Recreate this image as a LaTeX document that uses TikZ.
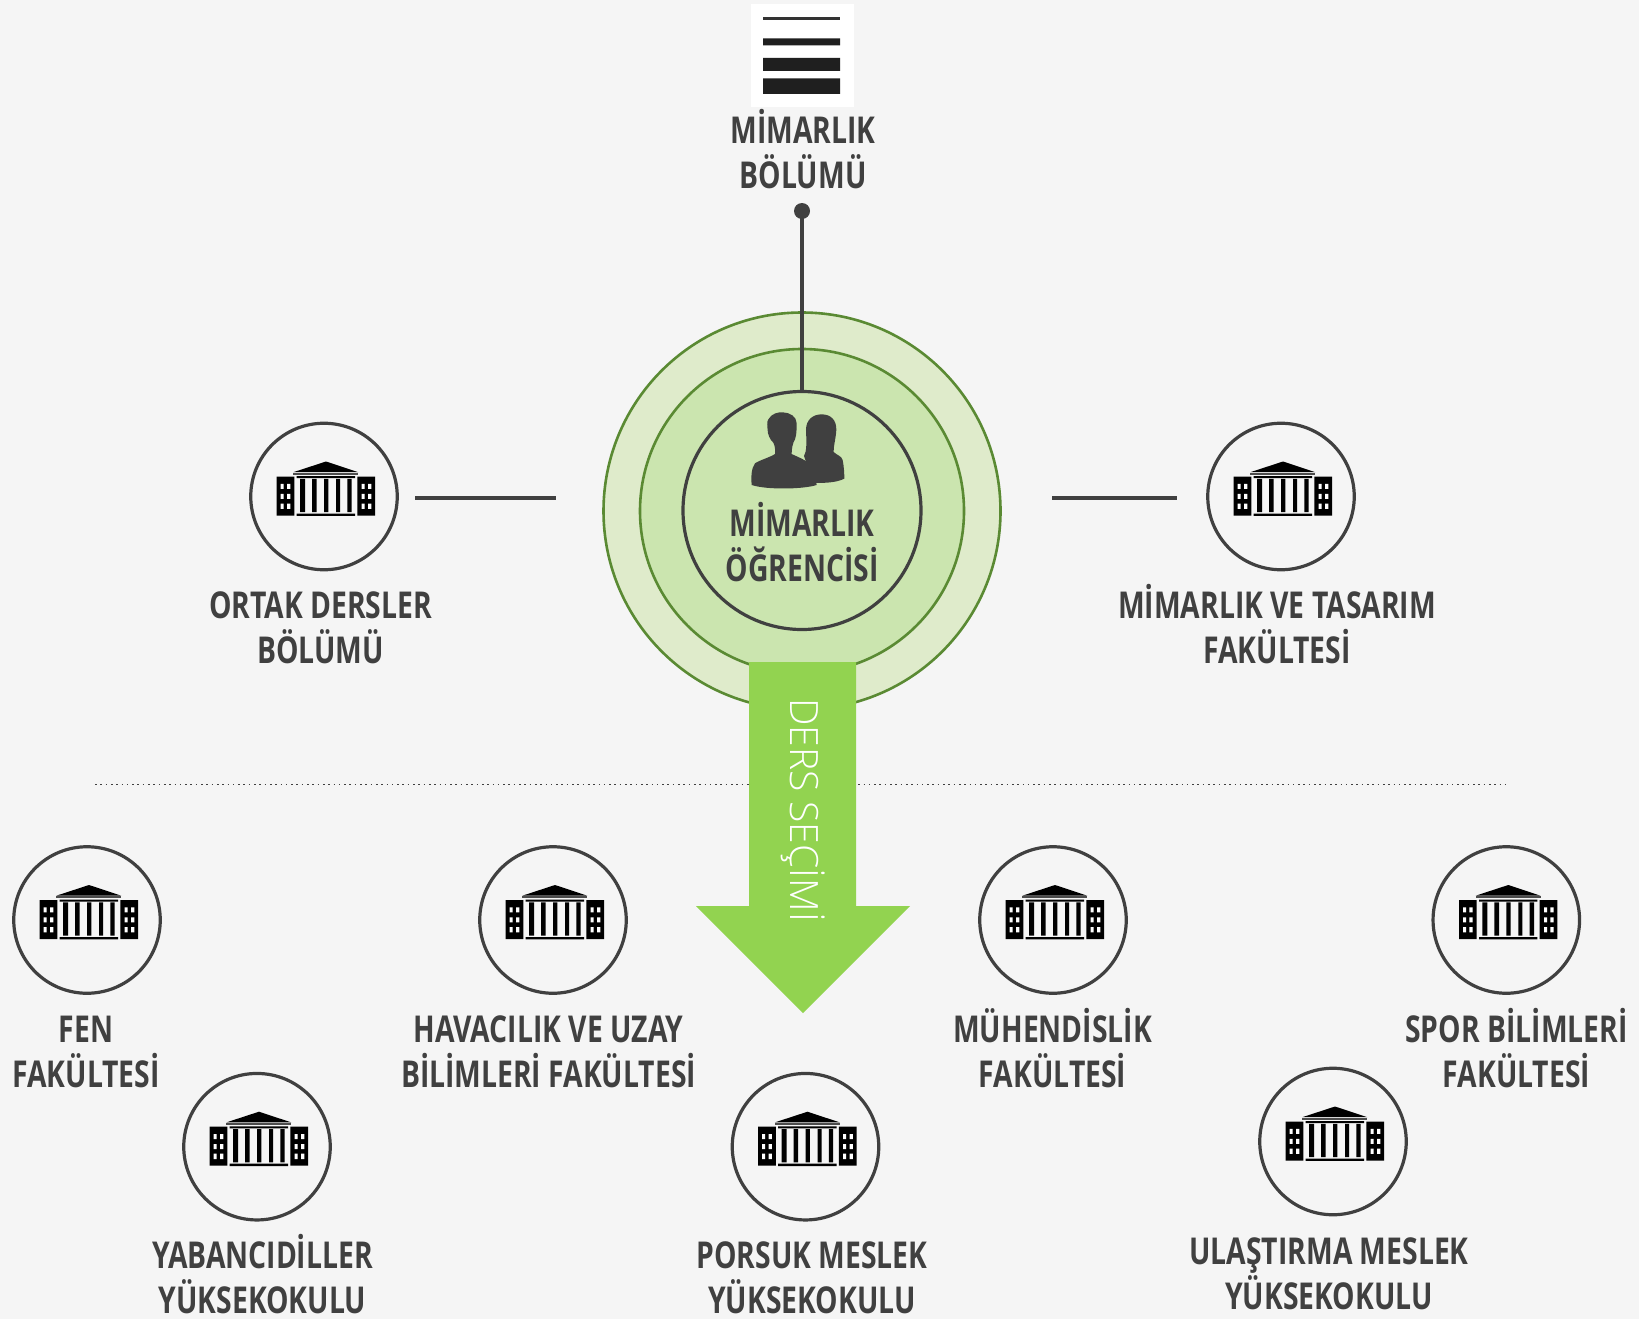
\documentclass[tikz,border=0pt]{standalone}
\usepackage{fontspec}
\setmainfont{Open Sans}
\newfontfamily\labf[FakeStretch=0.765]{Open Sans}
\newfontfamily\thinf{Open Sans Light}
\definecolor{bgc}{HTML}{F5F5F5}
\definecolor{ink}{HTML}{404040}
\definecolor{ringa}{HTML}{DFEBCB}
\definecolor{ringb}{HTML}{CBE5AF}
\definecolor{ringl}{HTML}{5A8A33}
\definecolor{arrowc}{HTML}{92D350}
\newcommand\sr{\rule[-3pt]{0pt}{39pt}}
\newcommand\lab[2]{\sr #1\\\sr #2}
\tikzset{
  x=1pt,y=-1pt,
  txtlabel/.style={font=\labf\bfseries\fontsize{37}{45}\selectfont,text=ink,align=center,inner sep=0pt,outer sep=0pt},
  ringbig/.style={circle,draw=ringl,line width=2.6pt,fill=ringa,minimum size=397pt,inner sep=0pt,outer sep=0pt},
  ringmid/.style={circle,draw=ringl,line width=2.6pt,fill=ringb,minimum size=324pt,inner sep=0pt,outer sep=0pt},
  ringin/.style={circle,draw=ink,line width=3.2pt,fill=ringb,minimum size=238pt,inner sep=0pt,outer sep=0pt},
  unit/.style={circle,draw=ink,line width=3.2pt,minimum size=146.5pt,inner sep=0pt,outer sep=0pt},
  conn/.style={draw=ink,line width=3.2pt},
  building/.pic={
    \fill[black] (-47.3,-20) rectangle (-29.7,19) (33.3,-20) rectangle (51,19);
    \fill[white] (-43.3,-12.7) rectangle (-40.3,-7.7) (-37,-12.7) rectangle (-33.7,-7.7)
                 (-43.3,-2.7) rectangle (-40.3,2.3) (-37,-2.7) rectangle (-33.7,2.3)
                 (-43.3,7) rectangle (-40.3,12.3) (-37,7) rectangle (-33.7,12.3)
                 (37.7,-12.7) rectangle (40.7,-7.7) (44,-12.7) rectangle (47.3,-7.7)
                 (37.7,-2.7) rectangle (40.7,2.3) (44,-2.7) rectangle (47.3,2.3)
                 (37.7,7) rectangle (40.7,12.3) (44,7) rectangle (47.3,12.3);
    \fill[black] (2,-35) -- (34.3,-24.3) -- (-30.7,-24.3) -- cycle;
    \fill[black!70] (-30.7,-24) rectangle (34.3,-22);
    \fill[black] (-27.3,-20.3) rectangle (31,-18.3) (-27.3,17) rectangle (31,19.3);
    \fill[black] (-24,-17.7) rectangle (-19,15.7) (-12,-17.7) rectangle (-7.3,15.7)
                 (0,-17.7) rectangle (4.3,15.7) (12,-17.7) rectangle (16,15.7)
                 (23.3,-17.7) rectangle (27.7,15.7);
  }
}
\begin{document}
\begin{tikzpicture}
\useasboundingbox (0,0) rectangle (1639,1319);
\fill[bgc] (0,0) rectangle (1639,1319);
% dotted rule
\coordinate (dl) at (95,784.5);
\coordinate (dr) at (1505,784.5);
\draw[ink,line width=1.8pt,dash pattern=on 1.6pt off 3.7pt] (dl) -- (dr);
% rings
\node[ringbig] (outer) at (802,511) {};
\node[ringmid] (mid) at (802,511) {};
\node[ringin] (inner) at (802,510.5) {};
% menu icon
\fill[white] (751,4) rectangle (854,107);
\fill[black!80] (763,17.5) rectangle (840,20.5);
\fill[black!88] (763,38.5) rectangle (840,45.5) (763,58) rectangle (840,71) (763,78.5) rectangle (840,94);
% top connector
\coordinate (topdot) at (802,211);
\draw[conn] (topdot) -- (inner.north);
\fill[ink] (topdot) circle (8pt);
% people icon
\begin{scope}[shift={(660,380)},x=0.3333pt,y=-0.3333pt]
\fill[ink] (432,228) .. controls (440,215) and (440,190) .. (438,150)
  .. controls (438,120) and (458,103) .. (485,103)
  .. controls (512,103) and (530,120) .. (529,150)
  .. controls (527,180) and (520,200) .. (521,216)
  .. controls (530,225) and (545,228) .. (548,240)
  .. controls (552,260) and (553,280) .. (553,296)
  .. controls (530,308) and (490,310) .. (460,308) -- cycle;
\fill[ink] (275,315) .. controls (273,290) and (274,265) .. (285,250)
  .. controls (300,240) and (330,232) .. (345,222)
  .. controls (347,210) and (344,195) .. (340,188)
  .. controls (330,180) and (322,160) .. (323,150)
  .. controls (322,140) and (320,125) .. (325,118)
  .. controls (335,100) and (355,96) .. (368,97)
  .. controls (390,97) and (410,110) .. (410,130)
  .. controls (410,145) and (410,165) .. (405,178)
  .. controls (398,190) and (395,205) .. (395,222)
  .. controls (415,232) and (440,240) .. (450,255)
  .. controls (462,275) and (468,295) .. (470,315)
  .. controls (430,328) and (320,330) .. (275,315) -- cycle;
\end{scope}
% center text
\node[txtlabel] (tstud) at (802,542) {\lab{MİMARLIK}{ÖĞRENCİSİ}};
\node[txtlabel] (ttop) at (803,150) {\lab{MİMARLIK}{BÖLÜMÜ}};
% side units
\node[unit] (uortak) at (324,496.5) {}; \pic at (uortak.center) {building};
\node[unit] (umim) at (1281,496.5) {}; \pic at (umim.center) {building};
\coordinate (la) at (415,498); \coordinate (lb) at (556,498);
\coordinate (ra) at (1052,498); \coordinate (rb) at (1177,498);
\draw[conn] (la) -- (lb);
\draw[conn] (ra) -- (rb);
\node[txtlabel] (tortak) at (320.5,624.5) {\lab{ORTAK DERSLER}{BÖLÜMÜ}};
\node[txtlabel] (tmim) at (1277,624.5) {\lab{MİMARLIK VE TASARIM}{FAKÜLTESİ}};
% arrow
\fill[arrowc] (749,662) -- (856,662) -- (856,906) -- (910,906) -- (803,1013) -- (696,906) -- (749,906) -- cycle;
\node[rotate=-90,font=\thinf\fontsize{39}{39}\selectfont,text=white,inner sep=0pt] (tders) at (803,810) {DERS SEÇİMİ};
% lower units
\node[unit] (ufen) at (87,920) {}; \pic at (ufen.center) {building};
\node[unit] (uhav) at (553,920) {}; \pic at (uhav.center) {building};
\node[unit] (umuh) at (1053,920) {}; \pic at (umuh.center) {building};
\node[unit] (uspor) at (1506.3,920) {}; \pic at (uspor.center) {building};
\node[unit] (uyab) at (257,1146.7) {}; \pic at (uyab.center) {building};
\node[unit] (upor) at (805.5,1146.7) {}; \pic at (upor.center) {building};
\node[unit] (ulas) at (1333,1141.5) {}; \pic at (ulas.center) {building};
\node[txtlabel] (tfen) at (86,1048) {\lab{FEN}{FAKÜLTESİ}};
\node[txtlabel] (thav) at (548.5,1048) {\lab{HAVACILIK VE UZAY}{BİLİMLERİ FAKÜLTESİ}};
\node[txtlabel] (tmuh) at (1052.6,1048) {\lab{MÜHENDİSLİK}{FAKÜLTESİ}};
\node[txtlabel] (tspor) at (1516.5,1048) {\lab{SPOR BİLİMLERİ}{FAKÜLTESİ}};
\node[txtlabel] (tyab) at (262.5,1274.5) {\lab{YABANCIDİLLER}{YÜKSEKOKULU}};
\node[txtlabel] (tpor) at (812,1274.5) {\lab{PORSUK MESLEK}{YÜKSEKOKULU}};
\node[txtlabel] (tula) at (1329,1270) {\lab{ULAŞTIRMA MESLEK}{YÜKSEKOKULU}};
\end{tikzpicture}
\end{document}
